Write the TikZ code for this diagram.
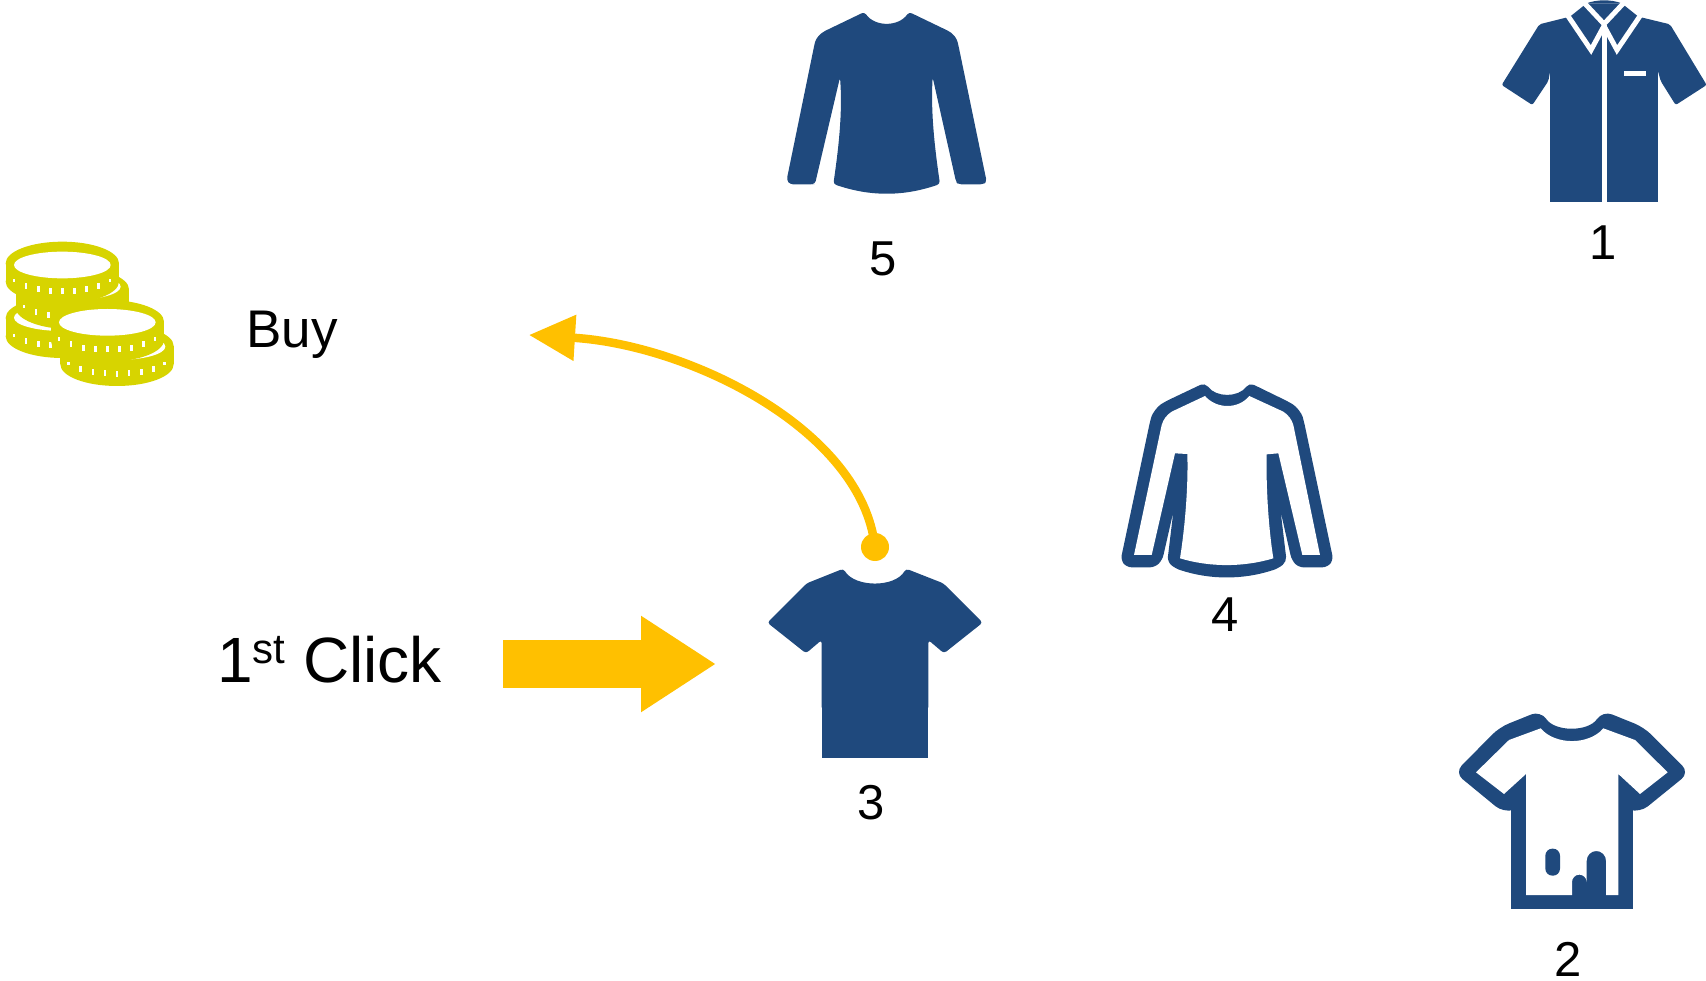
\documentclass[tikz,border=0pt]{standalone}
\usepackage{fontspec}
\setmainfont{Liberation Sans}
\usetikzlibrary{arrows.meta}
\definecolor{shirtblue}{HTML}{1F497D}
\definecolor{amber}{HTML}{FFC000}
\definecolor{coinyellow}{HTML}{D7D400}
\tikzset{
  zoomed/.style={x=0.33333pt,y=-0.33333pt},
  shirtfill/.style={fill=shirtblue,draw=none},
  gap/.style={fill=white,draw=none},
  whiteline/.style={draw=white,line width=5pt,line cap=butt,line join=miter},
  digit/.style={inner sep=0pt,font=\fontsize{49}{49}\selectfont,anchor=center},
  biglabel/.style={inner sep=0pt,anchor=base west},
  curvearrow/.style={draw=amber,line width=8.5pt,-{Triangle[length=46pt,width=44pt]}},
  blockarrow/.style={draw=amber,line width=48pt,-{Triangle[length=75pt,width=91pt]}},
  coincol/.style={fill=coinyellow,draw=none}
}
% a coin: centre x, top-ellipse centre y, white ellipse centre y
\newcommand{\coindraw}[3]{%
  \fill[coincol] (#1,#2) ellipse [x radius=170,y radius=65];
  \fill[coincol] (#1,{#2+55}) ellipse [x radius=170,y radius=65];
  \fill[coincol] ({#1-170},#2) rectangle ({#1+170},{#2+55});
  \fill[white] (#1,#3) ellipse [x radius=145,y radius=40];
  \foreach \dx/\dy/\hh in {-145/52/5,-109/68/9,-72/78/9,-36/82/9,0/83/9,36/82/9,73/78/9,109/68/9,143/52/5}{
    \fill[white] ({#1+\dx-4},{#2+\dy-\hh}) rectangle ({#1+\dx+4},{#2+\dy+\hh});
  }%
}
\begin{document}
\begin{tikzpicture}[x=1pt,y=-1pt]
\useasboundingbox (0,0) rectangle (1706,981);

% coins
\begin{scope}[shift={(0,220)},zoomed]
  \coindraw{187}{294}{293}
  \coindraw{217}{208}{200}
  \coindraw{187}{130}{135}
  \coindraw{351}{378}{380}
  \coindraw{322}{305}{307}
\end{scope}

% shirt 5 (long sleeves, filled)
\begin{scope}[shift={(770,0)},zoomed]
  \path[shirtfill,rounded corners=3pt]
    (283,36) .. controls (315,81) and (385,81) .. (417,36)
    -- (525,88) .. controls (550,100) and (560,115) .. (565,135)
    -- (650,545) -- (640,553) -- (565,553) -- (558,545)
    -- (488,232) .. controls (482,340) and (495,450) .. (510,552)
    .. controls (400,590) and (300,590) .. (190,552)
    .. controls (205,450) and (218,340) .. (210,232)
    -- (135,552) -- (125,553) -- (60,553) -- (50,540)
    -- (133,135) .. controls (138,115) and (150,100) .. (175,88)
    -- cycle;
\end{scope}

% shirt 1 (buttoned shirt)
\begin{scope}[shift={(1480,0)},zoomed]
  \path[shirtfill,rounded corners=2pt]
    (178,73) -- (270,50) -- (320,10) -- (425,10)
    -- (475,50) -- (570,73) -- (680,255) -- (587,315) -- (542,243) -- (533,210)
    -- (533,500) -- (211,500) -- (211,210) -- (205,243) -- (157,315) -- (65,255) -- cycle;
  \path[shirtfill] (320,10) .. controls (350,-2) and (395,-2) .. (425,10) -- cycle;
  \path[shirtfill] (211,210) rectangle (533,606);
  \draw[whiteline] (312,8) -- (372,72) -- (432,8);
  \draw[whiteline] (262,45) -- (333,150) -- (372,78) -- (411,150) -- (482,45);
  \draw[whiteline] (372,75) -- (372,610);
  \fill[white] (431,214) rectangle (497,229);
\end{scope}

% shirt 4 (long sleeves, outline)
\begin{scope}[shift={(1110,370)},zoomed]
  \path[shirtfill,rounded corners=5pt]
    (285,38) .. controls (318,83) and (385,83) .. (418,38)
    -- (535,95) .. controls (560,110) and (575,130) .. (582,155)
    -- (670,570) -- (652,592) -- (565,592) -- (545,570)
    -- (512,425) -- (530,575) -- (505,595)
    .. controls (400,630) and (300,630) .. (195,595)
    -- (172,575) -- (190,425) -- (157,570) -- (135,592) -- (50,592) -- (32,570)
    -- (120,155) .. controls (127,130) and (142,110) .. (165,95)
    -- cycle;
  \path[gap]
    (285,78) .. controls (320,118) and (385,118) .. (418,78)
    -- (520,125) .. controls (535,135) and (545,148) .. (550,165)
    -- (630,555) -- (577,555) -- (505,250) -- (470,253)
    .. controls (468,350) and (475,470) .. (490,565)
    .. controls (400,592) and (300,592) .. (210,565)
    .. controls (225,470) and (235,350) .. (232,252)
    -- (195,250) -- (125,555) -- (72,555) -- (155,165)
    .. controls (160,148) and (170,135) .. (185,125)
    -- cycle;
\end{scope}

% shirt 3 (t-shirt, filled)
\begin{scope}[shift={(760,510)},zoomed]
  \path[shirtfill,rounded corners=3pt]
    (250,176) .. controls (285,233) and (405,233) .. (438,176)
    -- (550,220) -- (668,338) -- (552,430) -- (505,390)
    -- (505,600) -- (185,600) -- (185,390)
    -- (138,430) -- (22,338) -- (140,220) -- cycle;
  \path[shirtfill] (185,390) rectangle (505,745);
\end{scope}

% shirt 2 (t-shirt, outline, stained)
\begin{scope}[shift={(1440,700)},zoomed]
  \path[shirtfill,rounded corners=10pt]
    (302,32) .. controls (345,96) and (445,96) .. (488,32)
    -- (612,82) -- (748,218) -- (600,338) -- (540,322)
    -- (252,322) -- (190,338) -- (44,218) -- (178,82) -- cycle;
  \path[shirtfill] (214,310) rectangle (578,628);
  \path[gap]
    (302,85) .. controls (345,136) and (447,136) .. (490,85)
    -- (585,120) -- (683,217) -- (600,282) -- (535,222) -- (535,585)
    -- (498,585) -- (498,482) arc[start angle=0,end angle=-180,radius=29]
    -- (440,546) arc[start angle=0,end angle=-180,radius=22]
    -- (396,585) -- (258,585) -- (258,222) -- (192,282) -- (108,217)
    -- (207,120) -- cycle;
  \fill[shirtblue,rounded corners=7pt] (316,446) rectangle (360,527);
\end{scope}

% connectors
\node[circle,fill=amber,inner sep=0pt,minimum size=28pt] (dot) at (875,547) {};
\coordinate (buyend) at (529,335);
\draw[curvearrow] (dot.center) .. controls (862,430) and (690,345) .. (buyend);

\coordinate (blockstart) at (503,664);
\coordinate (blockend) at (716,664);
\draw[blockarrow] (blockstart) -- (blockend);

% labels
\node[biglabel,font=\fontsize{53}{53}\selectfont] (buy) at (246,347.5) {Buy};
\node[biglabel,font=\fontsize{64}{64}\selectfont] (click) at (217,682)
  {1\raisebox{19pt}{\fontsize{42}{42}\selectfont st} Click};
\node[digit] (n5) at (883.5,259) {5};
\node[digit] (n1) at (1603,243) {1};
\node[digit] (n4) at (1225,615) {4};
\node[digit] (n3) at (871.5,803) {3};
\node[digit] (n2) at (1568.5,959) {2};
\end{tikzpicture}
\end{document}
